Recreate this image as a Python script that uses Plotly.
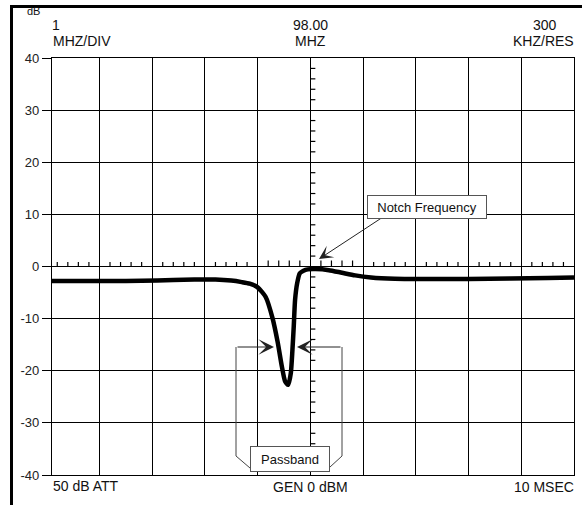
import plotly.graph_objects as go

# ---------------- data ----------------
freq_mhz = [93.10, 93.6, 94.2, 94.8, 95.4, 95.8, 96.2, 96.5, 96.7, 96.85, 97.0, 97.15,
            97.28, 97.38, 97.46, 97.52, 97.58, 97.63, 97.66, 97.685, 97.71, 97.75,
            97.80, 97.87, 97.95, 98.1, 98.35, 98.6, 98.85, 99.15, 99.6, 100.2,
            101.0, 101.8, 102.5, 103.0]
level_db = [-2.8, -2.8, -2.8, -2.75, -2.6, -2.5, -2.5, -2.7, -3.0, -3.3, -4.0, -5.8,
            -9.8, -14.5, -19.2, -22.0, -22.7, -20.4, -16.0, -11.5, -6.4, -3.2,
            -1.3, -0.8, -0.55, -0.5, -0.7, -1.2, -1.7, -2.1, -2.35, -2.4,
            -2.4, -2.3, -2.2, -2.1]

y_ticks = [40, 30, 20, 10, 0, -10, -20, -30, -40]
header_top = ["1", "98.00", "300"]
header_bottom = ["MHZ/DIV", "MHZ", "KHZ/RES"]
footer = ["50 dB ATT", "GEN 0 dBM", "10 MSEC"]
center_freq = 98.0
x_range = [93.1, 103.0]
y_range = [-40, 40]

# ---------------- geometry ----------------
W, H = 582, 505
L, R, T, B = 52, 8, 58, 30
PW, PH = W - L - R, H - T - B


def px(x):
    return (x - L) / PW


def py(y):
    return (H - B - y) / PH


def fx(x):  # pixel -> MHz
    return x_range[0] + (x - L) / PW * (x_range[1] - x_range[0])


def dy(y):  # pixel -> dB
    return y_range[1] - (y - T) / PH * (y_range[1] - y_range[0])


FONT = "Arial, Liberation Sans, sans-serif"
fig = go.Figure()
fig.add_trace(go.Scatter(x=freq_mhz, y=level_db, mode="lines",
                         line=dict(color="black", width=4.5, shape="spline", smoothing=0.6),
                         hoverinfo="skip", showlegend=False))

shapes = []
# outer frame (top and left edges visible)
shapes.append(dict(type="line", xref="paper", yref="paper", x0=px(10), x1=px(600),
                   y0=py(6.5), y1=py(6.5), line=dict(color="black", width=3)))
shapes.append(dict(type="line", xref="paper", yref="paper", x0=px(11.5), x1=px(11.5),
                   y0=py(5), y1=py(520), line=dict(color="black", width=3)))

# minor ticks along 0 dB line
f = 93.2
while f < x_range[1] - 0.05:
    if abs(f - round(f)) > 0.05:
        ln = 6 if abs(f - center_freq) < 1 else 4.5
        shapes.append(dict(type="line", xref="x", yref="y", ysizemode="pixel", yanchor=0,
                           x0=f, x1=f, y0=0, y1=ln, line=dict(color="black", width=1.2)))
    f = round(f + 0.2, 2)
# minor ticks along centre frequency line
for v in range(-38, 40, 2):
    if v % 10 != 0:
        shapes.append(dict(type="line", xref="x", yref="y", xsizemode="pixel", xanchor=center_freq,
                           x0=0, x1=5, y0=v, y1=v, line=dict(color="black", width=1.2)))

# passband brackets
shapes.append(dict(type="path", xref="x", yref="y",
                   path=f"M {fx(236)},{dy(347)} L {fx(236)},{dy(456)} L {fx(250)},{dy(468)}",
                   line=dict(color="#444", width=1)))
shapes.append(dict(type="path", xref="x", yref="y",
                   path=f"M {fx(342)},{dy(347)} L {fx(342)},{dy(456)} L {fx(330)},{dy(467)}",
                   line=dict(color="#444", width=1)))

annotations = []
# header
top_x = [56, 310, 545]
bot_x = [82, 310, 543]
for t, xx in zip(header_top, top_x):
    annotations.append(dict(text=t, xref="paper", yref="paper", x=px(xx), y=py(25),
                            showarrow=False, xanchor="center", yanchor="middle",
                            font=dict(family=FONT, size=14, color="#111")))
for t, xx in zip(header_bottom, bot_x):
    annotations.append(dict(text=t, xref="paper", yref="paper", x=px(xx), y=py(41),
                            showarrow=False, xanchor="center", yanchor="middle",
                            font=dict(family=FONT, size=14, color="#111")))
annotations.append(dict(text="dB", xref="paper", yref="paper", x=px(33), y=py(11),
                        showarrow=False, xanchor="center", yanchor="middle",
                        font=dict(family=FONT, size=11, color="#111")))
# footer
annotations.append(dict(text=footer[0], xref="paper", yref="paper", x=px(51), y=py(485.5),
                        showarrow=False, xanchor="left", yanchor="middle",
                        font=dict(family=FONT, size=14, color="#111")))
annotations.append(dict(text=footer[1], xref="paper", yref="paper", x=px(310), y=py(487),
                        showarrow=False, xanchor="center", yanchor="middle",
                        font=dict(family=FONT, size=14, color="#111")))
annotations.append(dict(text=footer[2], xref="paper", yref="paper", x=px(576), y=py(487),
                        showarrow=False, xanchor="right", yanchor="middle",
                        font=dict(family=FONT, size=14, color="#111")))

# Notch Frequency label + arrow
annotations.append(dict(text="", x=fx(319), y=dy(259), ax=fx(383), ay=dy(217),
                        xref="x", yref="y", axref="x", ayref="y", showarrow=True,
                        arrowhead=3, arrowsize=2.3, arrowwidth=1, arrowcolor="#222", standoff=0))
annotations.append(dict(text="Notch Frequency", x=fx(427), y=dy(207), xref="x", yref="y",
                        showarrow=False, bgcolor="white", bordercolor="#555", borderwidth=1,
                        borderpad=3, width=112, height=16,
                        font=dict(family=FONT, size=13, color="#111")))
# Passband label + arrows
annotations.append(dict(text="", x=fx(274), y=dy(347), ax=fx(236), ay=dy(347),
                        xref="x", yref="y", axref="x", ayref="y", showarrow=True,
                        arrowhead=3, arrowsize=2.6, arrowwidth=1, arrowcolor="#222", standoff=0))
annotations.append(dict(text="", x=fx(297), y=dy(347), ax=fx(342), ay=dy(347),
                        xref="x", yref="y", axref="x", ayref="y", showarrow=True,
                        arrowhead=3, arrowsize=2.6, arrowwidth=1, arrowcolor="#222", standoff=0))
annotations.append(dict(text="Passband", x=fx(290), y=dy(459), xref="x", yref="y",
                        showarrow=False, bgcolor="white", bordercolor="#555", borderwidth=1,
                        borderpad=3, width=72, height=18,
                        font=dict(family=FONT, size=13, color="#111")))

fig.update_layout(
    width=W, height=H, margin=dict(l=L, r=R, t=T, b=B, pad=0),
    paper_bgcolor="white", plot_bgcolor="white",
    shapes=shapes, annotations=annotations, showlegend=False,
    xaxis=dict(range=x_range, tick0=0, dtick=1, showgrid=True, gridcolor="black", gridwidth=1.2,
               showline=True, linecolor="black", linewidth=1.2, mirror=True,
               showticklabels=False, ticks="", zeroline=False, fixedrange=True),
    yaxis=dict(range=y_range, tickvals=y_ticks, ticktext=[str(v) for v in y_ticks],
               showgrid=True, gridcolor="black", gridwidth=1.2,
               showline=True, linecolor="black", linewidth=1.2, mirror=True,
               ticks="outside", ticklen=9, tickwidth=1, tickcolor="black",
               tickfont=dict(family=FONT, size=13, color="#222"), zeroline=False, fixedrange=True),
)

fig.write_html("out.html")
